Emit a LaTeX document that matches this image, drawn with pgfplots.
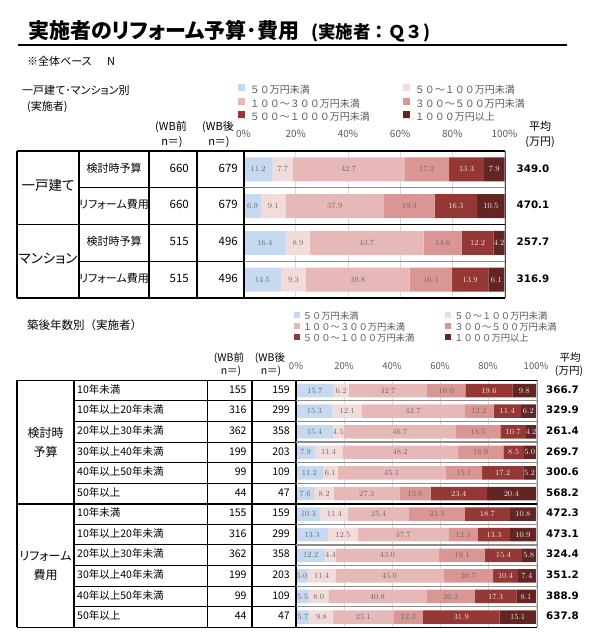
\documentclass[border=0pt]{standalone}
\usepackage{pgfplots}
\pgfplotsset{compat=1.18}
\usepackage{pgfplotstable}
\usepackage{fontspec}
\setmainfont{Noto Sans CJK JP}[RawFeature=+palt]
\newfontfamily\jpf{Noto Sans CJK JP}
\newfontfamily\vd{DejaVu Sans}
\newcommand\fs[2]{\fontsize{#1bp}{#2bp}\selectfont}
\definecolor{c1}{HTML}{C5D9F1}
\definecolor{c2}{HTML}{F2DCDB}
\definecolor{c3}{HTML}{E6B9B8}
\definecolor{c4}{HTML}{D99694}
\definecolor{c5}{HTML}{953735}
\definecolor{c6}{HTML}{632523}
\definecolor{txtgray}{HTML}{595959}
\definecolor{lblgray}{HTML}{6A6A6A}
\definecolor{sepgray}{HTML}{8C8C8C}
\definecolor{gridgray}{HTML}{D9D9D9}

\pgfplotstableread{
row a b c d e f
1 11.2 7.7 42.7 17.2 13.3 7.9
2 6.9 9.1 37.9 19.3 16.3 10.5
3 16.4 8.9 43.7 14.6 12.2 4.2
4 14.5 9.3 39.8 16.3 13.9 6.1
}\tabtop

\pgfplotstableread{
row a b c d e f
1 15.7 6.2 32.7 16.0 19.6 9.8
2 15.3 12.1 42.7 12.2 11.4 6.2
3 15.4 4.5 46.7 18.5 10.7 4.2
4 7.9 11.4 48.2 18.9 8.5 5.0
5 11.2 6.1 45.1 15.1 17.2 5.2
6 7.6 8.2 27.3 13.0 23.4 20.4
7 10.3 11.4 25.4 23.3 18.7 10.8
8 13.3 12.5 37.7 12.3 13.3 10.9
9 12.2 4.4 43.0 19.1 15.4 5.8
10 5.0 11.4 45.0 20.7 10.4 7.4
11 5.5 8.0 40.8 20.2 17.3 8.1
12 5.7 9.8 25.1 12.3 31.9 15.1
}\tabbot

\pgfplotsset{
  barstyle/.style={
    xbar stacked, scale only axis, xmin=0, xmax=100, y dir=reverse,
    enlargelimits=false,
    ytick=\empty, xtick={0,20,40,60,80,100},
    xticklabels={0\%,20\%,40\%,60\%,80\%,100\%},
    xticklabel pos=upper, axis line style={draw=none}, major tick length=0pt,
    xmajorgrids, major grid style={draw=gridgray, line width=0.8bp},
    xticklabel style={anchor=mid, text=txtgray},
    point meta=explicit,
    nodes near coords={\pgfmathprintnumber[fixed,fixed zerofill,precision=1]{\pgfplotspointmeta}},
    every node near coord/.append style={anchor=center, inner sep=0pt, text=lblgray},
    clip=false,
    legend columns=2, legend cell align=left,
  },
  wlab/.style={every node near coord/.append style={text=white!92!black}},
}

\begin{document}
\begin{tikzpicture}[x=1bp,y=1bp]
\path[use as bounding box] (0,0) rectangle (594,-632);

% ---------------- top panel axis
\begin{axis}[barstyle, at={(243.5bp,-298bp)}, anchor=south west,
  width=261bp, height=147bp, ymin=0.5, ymax=4.5, bar width=24bp,
  every node near coord/.append style={font=\vd\fs{8}{8}},
  xticklabel style={yshift=16bp, font=\fs{10}{10}},
  legend style={draw=none, fill=none, inner sep=0pt, outer sep=0pt, row sep=0pt, column sep=0pt,
    at={(axis description cs:-0.0211,1.4558)}, anchor=north west,
    font=\jpf\fs{10}{10},
    nodes={inner sep=0.5bp, text height=8.8bp, text depth=3.5bp, text=txtgray}},
  legend image code/.code={\fill[#1] (0bp,0bp) rectangle (7bp,7bp); \path (0bp,0bp) -- (11.3bp,0bp);},
]
\addplot[fill=c1, draw=none] table[x=a, y=row, meta=a] {\tabtop};
\addlegendentry{\makebox[152.7bp][l]{５０万円未満}}
\addplot[fill=c2, draw=none] table[x=b, y=row, meta=b] {\tabtop};
\addlegendentry{５０～１００万円未満}
\addplot[fill=c3, draw=none] table[x=c, y=row, meta=c] {\tabtop};
\addlegendentry{\makebox[152.7bp][l]{１００～３００万円未満}}
\addplot[fill=c4, draw=none] table[x=d, y=row, meta=d] {\tabtop};
\addlegendentry{３００～５００万円未満}
\addplot[fill=c5, draw=none, wlab] table[x=e, y=row, meta=e] {\tabtop};
\addlegendentry{\makebox[152.7bp][l]{５００～１０００万円未満}}
\addplot[fill=c6, draw=none, wlab] table[x=f, y=row, meta=f] {\tabtop};
\addlegendentry{１０００万円以上}
\end{axis}

% ---------------- bottom panel axis
\begin{axis}[barstyle, at={(296bp,-627.3bp)}, anchor=south west,
  width=240bp, height=247bp, ymin=0.5, ymax=12.5, bar width=13.5bp,
  every node near coord/.append style={font=\vd\fs{7.7}{7.7}},
  xticklabel style={yshift=13.3bp, font=\fs{9.5}{9.5}},
  legend style={draw=none, fill=none, inner sep=0pt, outer sep=0pt, row sep=0pt, column sep=0pt,
    at={(axis description cs:-0.0104,1.2785)}, anchor=north west,
    font=\jpf\fs{9.3}{9.3},
    nodes={inner sep=0.5bp, text height=6.8bp, text depth=2.5bp, text=txtgray}},
  legend image code/.code={\fill[#1] (0bp,0bp) rectangle (6bp,6bp); \path (0bp,0bp) -- (8.8bp,0bp);},
]
\addplot[fill=c1, draw=none] table[x=a, y=row, meta=a] {\tabbot};
\addlegendentry{\makebox[141.7bp][l]{５０万円未満}}
\addplot[fill=c2, draw=none] table[x=b, y=row, meta=b] {\tabbot};
\addlegendentry{５０～１００万円未満}
\addplot[fill=c3, draw=none] table[x=c, y=row, meta=c] {\tabbot};
\addlegendentry{\makebox[141.7bp][l]{１００～３００万円未満}}
\addplot[fill=c4, draw=none] table[x=d, y=row, meta=d] {\tabbot};
\addlegendentry{３００～５００万円未満}
\addplot[fill=c5, draw=none, wlab] table[x=e, y=row, meta=e] {\tabbot};
\addlegendentry{\makebox[141.7bp][l]{５００～１０００万円未満}}
\addplot[fill=c6, draw=none, wlab] table[x=f, y=row, meta=f] {\tabbot};
\addlegendentry{１０００万円以上}
\end{axis}

% ---------------- table lines: top
\draw[line width=2bp] (18,-45) -- (566.7,-45);
\begin{scope}[line width=1.6bp]
\draw (17,-151) -- (505,-151);
\draw (17,-298) -- (505,-298);
\draw (17,-224.5) -- (505,-224.5);
\foreach \x in {17,79,149,197,244} \draw (\x,-151) -- (\x,-298);
\end{scope}
\draw[line width=1bp] (79,-187.75) -- (244,-187.75);
\draw[line width=1bp] (79,-261.25) -- (244,-261.25);
\draw[line width=1.3bp, sepgray] (244,-187.75) -- (505,-187.75);
\draw[line width=1.3bp, sepgray] (244,-261.25) -- (505,-261.25);
\draw[line width=1bp, black!70] (505,-151) -- (505,-298);

% ---------------- table lines: bottom
\begin{scope}[line width=1.6bp]
\draw (17,-380.3) -- (537,-380.3);
\draw (17,-627.3) -- (537,-627.3);
\draw (17,-503.8) -- (537,-503.8);
\foreach \x in {17,74,207.3,251.7,296} \draw (\x,-380.3) -- (\x,-627.3);
\end{scope}
\foreach \k in {1,2,3,4,5,7,8,9,10,11} {
  \pgfmathsetmacro\yy{-(380.3+20.583*\k)}
  \draw[line width=1bp] (74,\yy) -- (296,\yy);
  \draw[line width=1.2bp, sepgray] (296,\yy) -- (537,\yy);
}
\draw[line width=0.8bp, black!45] (537,-380.3) -- (537,-627.3);

% ---------------- texts
\begin{scope}[every node/.style={inner sep=0pt}]
\node[anchor=base west] at (28,-39) {\fs{21}{21}\bfseries 実施者のリフォーム予算･費用};
\node[anchor=base west] at (311,-39) {\jpf\fs{17.5}{17.5}\bfseries (実施者：Ｑ３)};
\node[anchor=mid west] at (27,-63) {\fs{11}{11}※全体ベース};
\node[anchor=mid west] at (107,-63) {\fs{11}{11}N};
\node[anchor=mid west] at (22,-92) {\fs{11}{11}一戸建て･マンション別};
\node[anchor=mid west] at (27,-108) {\fs{11}{11}(実施者)};

% top headers
\node[anchor=mid] at (171,-128) {\fs{11}{11}(WB前};
\node[anchor=mid] at (172,-143) {\jpf\fs{11}{11}n＝)};
\node[anchor=mid] at (218,-128) {\fs{11}{11}(WB後};
\node[anchor=mid] at (219,-143) {\jpf\fs{11}{11}n＝)};
\node[anchor=mid] at (540,-128) {\fs{11}{11}平均};
\node[anchor=mid] at (540,-143) {\fs{11}{11}(万円)};

\node[anchor=mid] at (48,-187.75) {\fs{13.5}{13.5}一戸建て};
\node[anchor=mid] at (48,-261.25) {\fs{13.5}{13.5}マンション};
\foreach \i/\lab/\na/\nb/\av in {
  1/検討時予算/660/679/349.0,
  2/リフォーム費用/660/679/470.1,
  3/検討時予算/515/496/257.7,
  4/リフォーム費用/515/496/316.9}{
  \pgfmathsetmacro\yy{-(151+36.75*(\i-0.5))}
  \node[anchor=mid] at (114,\yy) {\fs{11}{11}\lab};
  \node[anchor=mid east] at (189,\yy) {\fs{11.5}{11.5}\na};
  \node[anchor=mid east] at (238,\yy) {\fs{11.5}{11.5}\nb};
  \node[anchor=mid] at (533,\yy) {\vd\bfseries\fs{10.3}{10.3}\av};
}

% bottom headers
\node[anchor=mid west] at (27,-327) {\jpf\fs{11.5}{11.5}築後年数別（実施者）};
\node[anchor=mid] at (229,-359) {\fs{10.5}{10.5}(WB前};
\node[anchor=mid] at (231,-372) {\jpf\fs{10.5}{10.5}n＝)};
\node[anchor=mid] at (270,-359) {\fs{10.5}{10.5}(WB後};
\node[anchor=mid] at (271,-372) {\jpf\fs{10.5}{10.5}n＝)};
\node[anchor=mid] at (570,-359) {\fs{10.5}{10.5}平均};
\node[anchor=mid] at (569,-372) {\fs{10.5}{10.5}(万円)};

\node[align=center, anchor=center, font=\fs{12}{19}] at (45.5,-442) {検討時\\予算};
\node[align=center, anchor=center, font=\fs{12}{19}] at (45.5,-565.5) {リフォーム\\費用};

\foreach \i/\lab/\na/\nb/\av in {
 1/10年未満/155/159/366.7,
 2/10年以上20年未満/316/299/329.9,
 3/20年以上30年未満/362/358/261.4,
 4/30年以上40年未満/199/203/269.7,
 5/40年以上50年未満/99/109/300.6,
 6/50年以上/44/47/568.2,
 7/10年未満/155/159/472.3,
 8/10年以上20年未満/316/299/473.1,
 9/20年以上30年未満/362/358/324.4,
 10/30年以上40年未満/199/203/351.2,
 11/40年以上50年未満/99/109/388.9,
 12/50年以上/44/47/637.8}{
  \pgfmathsetmacro\yy{-(380.3+20.583*(\i-0.5))}
  \node[anchor=mid west] at (77,\yy) {\fs{10.5}{10.5}\lab};
  \node[anchor=mid east] at (246.7,\yy) {\fs{10.5}{10.5}\na};
  \node[anchor=mid east] at (290,\yy) {\fs{10.5}{10.5}\nb};
  \node[anchor=mid] at (562.5,\yy) {\vd\bfseries\fs{10.3}{10.3}\av};
}
\end{scope}
\end{tikzpicture}
\end{document}
